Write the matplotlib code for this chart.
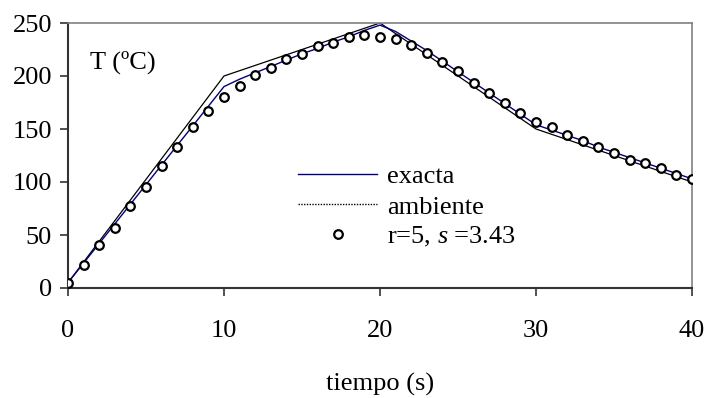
import matplotlib
matplotlib.use("Agg")
import matplotlib.pyplot as plt
from matplotlib.legend_handler import HandlerLine2D

plt.rcParams['font.family'] = ['Liberation Serif', 'DejaVu Serif']
plt.rcParams['mathtext.fontset'] = 'custom'
plt.rcParams['mathtext.rm'] = 'Liberation Serif'
plt.rcParams['mathtext.it'] = 'Liberation Serif:italic'

# Data
t_amb = [0, 10, 20, 30, 40]
T_amb = [5, 200, 250, 150, 100]

t_exact = list(range(0, 41))
T_exact = [5, 23.5, 42, 60.5, 79, 97.5, 116, 134.5, 153, 171.5, 190,
           197, 203, 209, 215, 221, 226, 232, 237, 243, 248,
           242, 233, 224, 214, 204, 194, 184, 174, 164, 154,
           149, 144, 139, 133, 128, 123, 118, 113, 108, 103]

t_num = list(range(0, 41))
T_num = [5, 22, 41, 57, 77, 95, 115, 133, 152, 167, 180,
         191, 201, 208, 216, 221, 228, 231, 237, 239, 237,
         235, 229, 222, 213, 205, 193, 184, 175, 165, 157,
         152, 144, 139, 133, 127, 121, 118, 113, 107, 103]

xticks = [0, 10, 20, 30, 40]
yticks = [0, 50, 100, 150, 200, 250]

FS = 19


class LeftMarkerHandler(HandlerLine2D):
    def get_xdata(self, legend, xdescent, ydescent, width, height, fontsize):
        xdata = [-xdescent, -xdescent + width]
        xdata_marker = [-xdescent + 0.32 * width]
        return xdata, xdata_marker


fig = plt.figure(figsize=(7.09, 3.98), dpi=100)
ax = fig.add_axes([68/709, 1-288/398, (692-68)/709, (288-23)/398])

ax.plot(t_exact, T_exact, color='#000080', lw=1.0, label='exacta', zorder=3)
ax.plot(t_amb, T_amb, color='black', lw=0.9, label='ambiente', zorder=2)
num_line, = ax.plot(t_num, T_num, ls='none', marker='o', ms=6.2, mfc='white',
                    mec='black', mew=1.6, label='r=5, $s$ =3.43', zorder=4)

ax.set_xlim(0, 40)
ax.set_ylim(0, 250)
ax.set_xticks(xticks)
ax.set_yticks(yticks)
ax.tick_params(axis='both', direction='out', length=6, width=1.2, color='#333333',
               labelsize=FS)
ax.tick_params(axis='y', pad=5.5)
ax.tick_params(axis='x', pad=17)

for s in ['top', 'right']:
    ax.spines[s].set_color('#808080')
    ax.spines[s].set_linewidth(1.2)
for s in ['left', 'bottom']:
    ax.spines[s].set_color('#333333')
    ax.spines[s].set_linewidth(1.5)

ax.text(0.035, 0.853, 'T (ºC)', transform=ax.transAxes, fontsize=FS,
        ha='left', va='center')

fig.text(380/709, 1-384/398, 'tiempo (s)', fontsize=FS, ha='center', va='center')

handles, labels = ax.get_legend_handles_labels()
handles[1] = plt.Line2D([], [], color='black', lw=1.0, ls=(0, (1, 1)))
leg = ax.legend(handles, labels, loc='upper left',
                bbox_to_anchor=((298-68)/624, (288-165)/265),
                frameon=False, fontsize=FS, handlelength=3.0, handletextpad=0.38,
                labelspacing=0.25, borderaxespad=0, numpoints=1,
                borderpad=0, handler_map={num_line: LeftMarkerHandler(numpoints=1)})

fig.savefig('out.png', dpi=100)
